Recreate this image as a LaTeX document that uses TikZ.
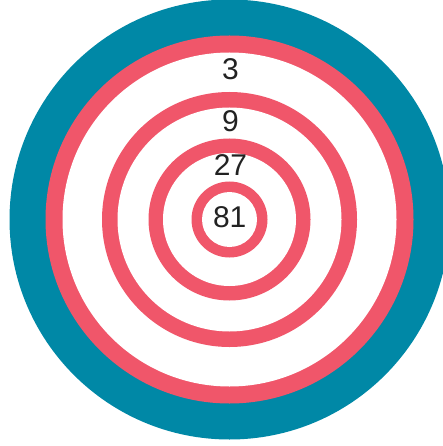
\documentclass[tikz,border=0pt]{standalone}
\usepackage{fontspec}
\setmainfont{Liberation Sans}
\definecolor{teal1}{RGB}{0,136,166}
\definecolor{rose}{RGB}{240,86,106}
\definecolor{txt}{RGB}{34,34,34}
\begin{document}
\begin{tikzpicture}[x=1pt,y=-1pt,
  lbl/.style={inner sep=0pt,text=txt,font=\fontsize{30}{30}\selectfont}]
\useasboundingbox (0,0) rectangle (443,446);
\clip (0,0) rectangle (443,446);
\coordinate (c) at (229.5,219.5);
\fill[teal1] (c) circle[radius=220];
\fill[rose] (c) circle[radius=184];
\fill[white] (c) circle[radius=167];
\fill[rose] (c) circle[radius=127.5];
\fill[white] (c) circle[radius=112];
\fill[rose] (c) circle[radius=81];
\fill[white] (c) circle[radius=66.5];
\fill[rose] (c) circle[radius=38];
\fill[white] (c) circle[radius=27.5];
\node[lbl] (n3) at (230.5,69.5) {3};
\node[lbl] (n9) at (230.5,121) {9};
\node[lbl] (n27) at (230.5,165) {27};
\node[lbl] (n81) at (229.7,216.7) {81};
\end{tikzpicture}
\end{document}
